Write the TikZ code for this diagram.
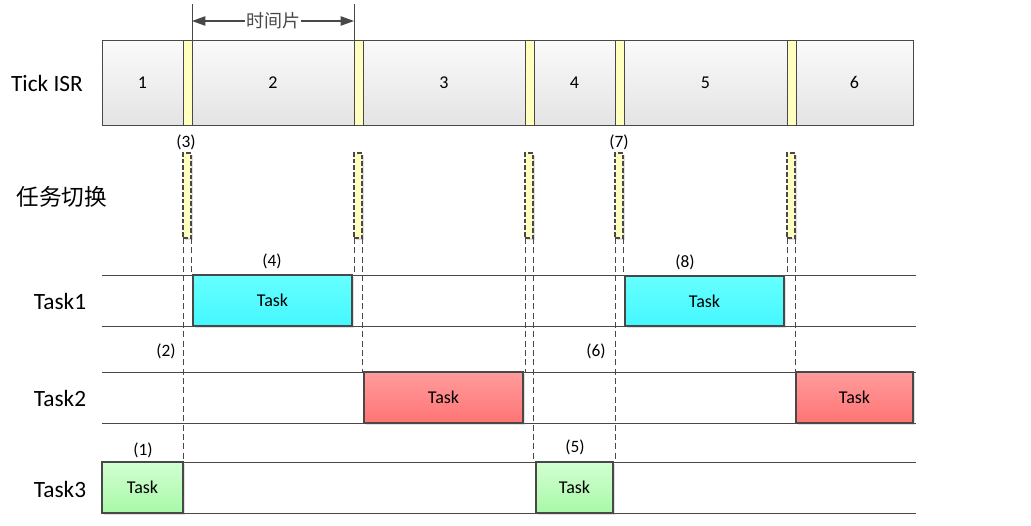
\documentclass[tikz,border=0pt]{standalone}
\usepackage{fontspec}
\setmainfont{Carlito}
\newfontfamily\cjk{Noto Sans CJK SC}
\usetikzlibrary{fit,shadows,arrows.meta}
\definecolor{isrtop}{HTML}{FAFAFA}
\definecolor{isrbot}{HTML}{E4E4E4}
\definecolor{ybarc}{HTML}{FFFFC0}
\definecolor{cyantop}{HTML}{66FFFF}
\definecolor{cyanbot}{HTML}{44F8FF}
\definecolor{redtop}{HTML}{FF9C9C}
\definecolor{redbot}{HTML}{FF7474}
\definecolor{grntop}{HTML}{D2FFD2}
\definecolor{grnbot}{HTML}{A8F8A8}
\definecolor{edge}{HTML}{484848}
\begin{document}
\begin{tikzpicture}[x=0.75pt,y=-0.75pt,
  isrseg/.style={draw=edge, line width=0.7pt, top color=isrtop, bottom color=isrbot, inner sep=0pt, outer sep=0pt},
  ybar/.style={draw=edge, line width=0.7pt, fill=ybarc, inner sep=0pt, outer sep=0pt},
  swbar/.style={draw=edge, line width=0.9pt, dash pattern=on 3.5pt off 1.5pt, fill=ybarc, inner sep=0pt, outer sep=0pt,
    drop shadow={opacity=0.25, shadow xshift=1.2pt, shadow yshift=-1.2pt}},
  taskbox/.style={draw=edge, line width=0.8pt, inner sep=0pt, outer sep=0pt,
    drop shadow={opacity=0.25, shadow xshift=1.5pt, shadow yshift=-1.5pt}},
  cyanbox/.style={taskbox, top color=cyantop, bottom color=cyanbot},
  redbox/.style={taskbox, top color=redtop, bottom color=redbot},
  grnbox/.style={taskbox, top color=grntop, bottom color=grnbot},
  rowline/.style={draw=edge, line width=0.75pt},
  dline/.style={draw=edge, line width=0.75pt, dash pattern=on 4.5pt off 2.5pt},
  rowlab/.style={font=\fontsize{17.5}{19}\selectfont},
  numlab/.style={font=\fontsize{13}{15}\selectfont},
  seglab/.style={font=\fontsize{13.5}{15}\selectfont},
  every label/.style={font=\fontsize{13.5}{15}\selectfont}
]
\path[use as bounding box] (0,0) rectangle (1031,525);

% ---- row lines
\draw[rowline] (102,275) -- (916,275);
\draw[rowline] (102,326) -- (916,326);
\draw[rowline] (102,372) -- (916,372);
\draw[rowline] (102,423) -- (916,423);
\draw[rowline] (102,462) -- (916,462);
\draw[rowline] (102,513) -- (916,513);

% ---- Tick ISR strip
\node[isrseg, fit={(102,40)(183,125)}] (isr1) {};
\node[ybar,   fit={(183,40)(192,125)}] (yb1) {};
\node[isrseg, fit={(192,40)(354,125)}] (isr2) {};
\node[ybar,   fit={(354,40)(363,125)}] (yb2) {};
\node[isrseg, fit={(363,40)(525,125)}] (isr3) {};
\node[ybar,   fit={(525,40)(534,125)}] (yb3) {};
\node[isrseg, fit={(534,40)(615,125)}] (isr4) {};
\node[ybar,   fit={(615,40)(624,125)}] (yb4) {};
\node[isrseg, fit={(624,40)(787,125)}] (isr5) {};
\node[ybar,   fit={(787,40)(796,125)}] (yb5) {};
\node[isrseg, fit={(796,40)(913,125)}] (isr6) {};
\node[seglab] at (isr1.center) {1};
\node[seglab] at (isr2.center) {2};
\node[seglab] at (isr3.center) {3};
\node[seglab] at (isr4.center) {4};
\node[seglab] at (isr5.center) {5};
\node[seglab] at (isr6.center) {6};

% ---- time slice dimension
\coordinate (ts1t) at (192,4);
\coordinate (ts2t) at (354,4);
\coordinate (tsy) at (0,21);
\draw[edge, line width=0.7pt] (ts1t) -- (yb1.north east);
\draw[edge, line width=0.7pt] (ts2t) -- (yb2.north west);
\draw[edge, line width=0.9pt, {Triangle[length=10pt,width=7pt]}-{Triangle[length=10pt,width=7pt]}]
  (ts1t |- tsy) -- node[fill=white, inner sep=1pt, font=\cjk\fontsize{13.5}{15}\selectfont] (tslab) {时间片} (ts2t |- tsy);

% ---- task switch bars
\node[swbar, fit={(183,153)(191,238)}] (sw1) {};
\node[swbar, fit={(354,153)(362,238)}] (sw2) {};
\node[swbar, fit={(525,153)(533,238)}] (sw3) {};
\node[swbar, fit={(615,153)(623,238)}] (sw4) {};
\node[swbar, fit={(787,153)(795,238)}] (sw5) {};

% ---- task boxes
\node[cyanbox, fit={(193,275)(352,326)}, label=center:Task] (t1a) {};
\node[cyanbox, fit={(625,276)(784,326)}, label=center:Task] (t1b) {};
\node[redbox,  fit={(364,372)(523,423)}, label=center:Task] (t2a) {};
\node[redbox,  fit={(796,372)(913,423)}, label=center:Task] (t2b) {};
\node[grnbox,  fit={(102,462)(183,513)}, label=center:Task] (t3a) {};
\node[grnbox,  fit={(536,462)(613,513)}, label=center:Task] (t3b) {};

% ---- dashed connectors
\draw[dline] (sw1.south west) -- (sw1.south west |- t3a.north);
\draw[dline] (sw1.south east) -- (sw1.south east |- t1a.north);
\draw[dline] (sw2.south west) -- (sw2.south west |- t1a.north);
\draw[dline] (sw2.south east) -- (sw2.south east |- t2a.north);
\draw[dline] (sw3.south west) -- (sw3.south west |- t2a.north);
\draw[dline] (sw3.south east) -- (sw3.south east |- t3b.north);
\draw[dline] (sw4.south west) -- (sw4.south west |- t3b.north);
\draw[dline] (sw4.south east) -- (sw4.south east |- t1b.north);
\draw[dline] (sw5.south west) -- (sw5.south west |- t1b.north);
\draw[dline] (sw5.south east) -- (sw5.south east |- t2b.north);

% ---- row labels
\node[rowlab] (lisr) at (47,83) {Tick ISR};
\node[font=\cjk\fontsize{17}{19}\selectfont] (lsw) at (62,197) {任务切换};
\node[rowlab] (lt1) at (60,301) {Task1};
\node[rowlab] (lt2) at (60,398) {Task2};
\node[rowlab] (lt3) at (60,489) {Task3};

% ---- step numbers
\node[numlab] (n1) at (143,450) {(1)};
\node[numlab] (n2) at (166,351) {(2)};
\node[numlab] (n3) at (186,142) {(3)};
\node[numlab] (n4) at (272,261) {(4)};
\node[numlab] (n5) at (575,447) {(5)};
\node[numlab] (n6) at (596,351) {(6)};
\node[numlab] (n7) at (619,142) {(7)};
\node[numlab] (n8) at (685,262) {(8)};
\end{tikzpicture}
\end{document}
